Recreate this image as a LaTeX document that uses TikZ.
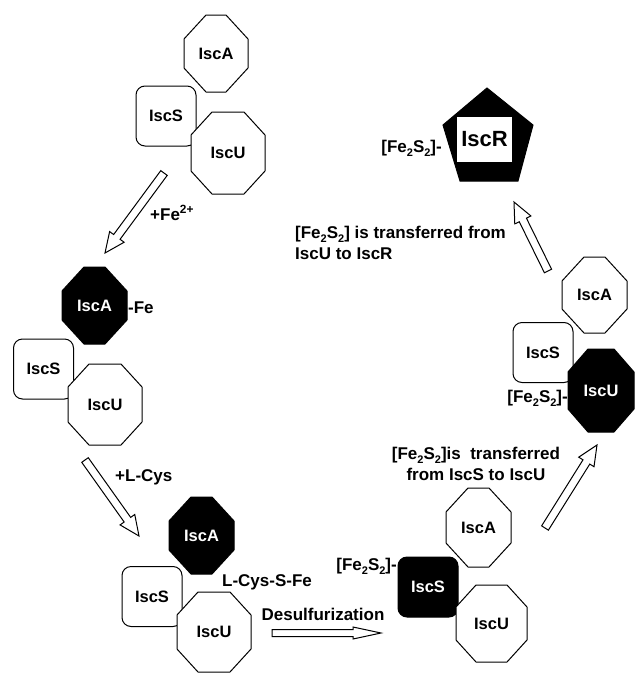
\documentclass[tikz,border=0pt]{standalone}
\usepackage{fontspec}
\setmainfont{Liberation Sans}
\usetikzlibrary{calc}
\newcommand{\hollowarrow}[5]{%
  \path coordinate (hn) at ($(#2)!#5!(#1)$);
  \draw[harrow] ($(#1)!#3!90:(#2)$) -- ($(hn)!#3!90:(#2)$) -- ($(hn)!#4!90:(#2)$) -- (#2)
    -- ($(hn)!#4!-90:(#2)$) -- ($(hn)!#3!-90:(#2)$) -- ($(#1)!#3!-90:(#2)$) -- cycle;}
% octagon: name, center, half-width, half-height, chamfer x, chamfer y, style, text
\newcommand{\octa}[8]{%
  \coordinate (#1c) at #2;
  \filldraw[octline, #7] ($(#1c)+(-#3+#5,-#4)$) -- ($(#1c)+(#3-#5,-#4)$) -- ($(#1c)+(#3,-#4+#6)$)
    -- ($(#1c)+(#3,#4-#6)$) -- ($(#1c)+(#3-#5,#4)$) -- ($(#1c)+(-#3+#5,#4)$)
    -- ($(#1c)+(-#3,#4-#6)$) -- ($(#1c)+(-#3,-#4+#6)$) -- cycle;
  \node[prot, #7, draw=none, fill=none] (#1) at #2 {#8};}
\newcommand{\sbtwo}{\raisebox{-0.45ex}{\fontsize{11}{11}\selectfont 2}}
\newcommand{\FeS}{[Fe\sbtwo S\sbtwo]}
\begin{document}
\begin{tikzpicture}[x=1pt,y=-1pt,
  prot/.style={font=\fontsize{16.5}{18}\selectfont\bfseries, line width=1pt, draw=black, inner sep=0pt},
  octline/.style={draw=black, fill=white, line width=1pt, line join=miter},
  sq/.style={prot, rectangle, rounded corners=9pt, minimum width=60pt, minimum height=60pt, fill=white},
  blk/.style={fill=black, text=white},
  lab/.style={font=\fontsize{17}{21}\selectfont\bfseries, inner sep=0pt},
  harrow/.style={draw=black, fill=white, line width=1pt, line join=miter}
]
\useasboundingbox (0,0) rectangle (635,673);

% cluster 1
\node[sq] (S1) at (166,116) {IscS};
\octa{U1}{(228,153)}{37}{41}{21}{23}{}{IscU}
\octa{A1}{(216,53.5)}{32}{38.5}{22}{24}{}{IscA}

% cluster 2
\node[sq] (S2) at (43.5,369) {IscS};
\octa{U2}{(105,404.5)}{37}{40.5}{21}{23}{}{IscU}
\octa{A2}{(94.5,305.5)}{32.5}{38.5}{22}{24}{blk}{IscA}
\node[lab, anchor=west] (fe) at (128,308) {-Fe};

% cluster 3
\node[sq] (S3) at (152,596.5) {IscS};
\octa{U3}{(214,632)}{37}{40}{21}{23}{}{IscU}
\octa{A3}{(201.5,535.5)}{32.5}{38.5}{22}{24}{blk}{IscA}
\node[lab] (lcsf) at (267,582) {L-Cys-S-Fe};
\node[lab] (des) at (323,614) {Desulfurization};

% cluster 4
\node[sq, blk] (S4) at (428,587) {IscS};
\octa{U4}{(491.5,623.5)}{35.5}{38.5}{20}{22}{}{IscU}
\octa{A4}{(478.5,527.5)}{32.5}{39.5}{22}{24}{}{IscA}
\node[lab, anchor=east] (fs4) at (397,566) {\FeS-};
\node[lab, align=center] (t4) at (476,464) {\FeS is\ \ transferred\\from IscS to IscU};

% cluster 5
\node[sq] (S5) at (543,352.5) {IscS};
\octa{U5}{(601,390.5)}{33}{41.5}{20}{23}{blk}{IscU}
\octa{A5}{(594.5,295)}{32.5}{38}{22}{24}{}{IscA}
\node[lab, anchor=east] (fs5) at (568,398) {\FeS-};

% IscR
\draw[fill=black, line width=1pt] (487,88) -- (533,125) -- (518,181) -- (460,181) -- (443,125) -- cycle;
\node[font=\fontsize{22}{24}\selectfont\bfseries, fill=white, inner sep=0pt, minimum width=55pt, minimum height=45pt] (R) at (484.5,139.5) {IscR};
\node[lab, anchor=east] (fsR) at (442,148) {\FeS-};
\node[lab, align=left, anchor=north west] (tR) at (295,226) {\FeS\ is transferred from\\IscU to IscR};

% arrow labels
\node[lab, anchor=west] (lfe) at (150,213) {+Fe\textsuperscript{2+}};
\node[lab, anchor=west] (lcys) at (115,477) {+L-Cys};

% hollow arrows
\coordinate (a1t) at (164,173); \coordinate (a1h) at (105,253);
\coordinate (a2t) at (85,460);  \coordinate (a2h) at (139,536);
\coordinate (a3t) at (272,633); \coordinate (a3h) at (381,633);
\coordinate (a4t) at (545,528); \coordinate (a4h) at (597,445);
\coordinate (a5t) at (548,271); \coordinate (a5h) at (514,202);
\hollowarrow{a1t}{a1h}{4pt}{9pt}{20pt}
\hollowarrow{a2t}{a2h}{4pt}{9pt}{20pt}
\hollowarrow{a3t}{a3h}{3.5pt}{6pt}{28pt}
\hollowarrow{a4t}{a4h}{4pt}{9pt}{20pt}
\hollowarrow{a5t}{a5h}{4pt}{9pt}{20pt}
\end{tikzpicture}
\end{document}
